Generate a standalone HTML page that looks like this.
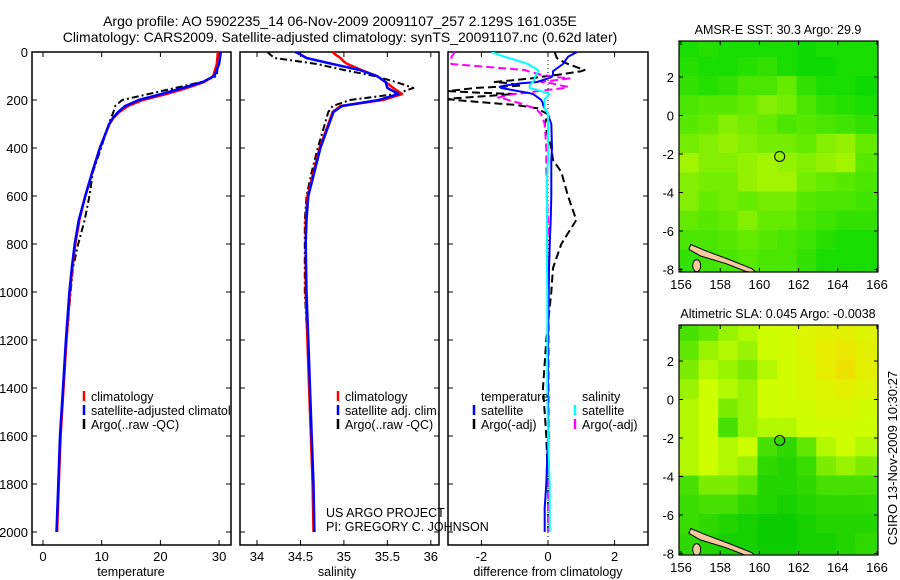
<!DOCTYPE html>
<html><head><meta charset="utf-8"><style>
html,body{margin:0;padding:0;background:#fff;}
svg{display:block;font-family:"Liberation Sans",sans-serif;}
</style></head><body>
<svg id="fig" width="900" height="580" viewBox="0 0 900 580" xmlns="http://www.w3.org/2000/svg">
<defs>
<clipPath id="c1"><rect x="32" y="52" width="199" height="493"/></clipPath>
<clipPath id="c2"><rect x="240" y="52" width="199" height="493"/></clipPath>
<clipPath id="c3"><rect x="448" y="52" width="200" height="493"/></clipPath>
<clipPath id="m1"><rect x="679" y="41" width="199" height="231"/></clipPath>
<clipPath id="m2"><rect x="679" y="325" width="199" height="230"/></clipPath>
</defs>
<text x="340" y="26" font-size="14" text-anchor="middle">Argo profile: AO 5902235_14 06-Nov-2009 20091107_257 2.129S 161.035E</text>
<text x="340" y="42" font-size="14" text-anchor="middle">Climatology: CARS2009. Satellite-adjusted climatology: synTS_20091107.nc (0.62d later)</text>
<g id="g"></g>
</svg>
<script>
// ---- profile data ----
const depthT = [0,50,100,125,150,175,200,225,250,275,300,400,500,600,700,800,900,1000,1200,1400,1600,1800,2000];
const tempClim = [29.8,29.6,29.0,27.5,24.5,21.0,17.0,14.5,13.0,12.0,11.3,9.7,8.4,7.2,6.2,5.5,5.0,4.6,4.0,3.5,3.0,2.7,2.4];
const tempSat  = [30.3,30.0,29.2,27.2,23.8,20.2,16.3,14.0,12.8,11.9,11.3,9.7,8.4,7.2,6.1,5.4,4.9,4.5,3.9,3.4,2.9,2.6,2.3];
const tempArgo = [30.0,29.8,29.6,27.0,22.5,18.0,13.5,12.3,12.0,11.6,11.2,9.9,8.5,7.9,7.1,6.0,5.1,4.7,4.0,3.4,3.0,2.6,2.3];
const depthS = [0,10,25,40,50,75,100,125,150,175,200,225,250,300,400,500,600,700,800,1000,1200,1400,1600,1800,2000];
const salClim = [34.87,34.9,34.96,35.0,35.04,35.2,35.38,35.48,35.57,35.67,35.45,34.96,34.87,34.82,34.72,34.65,34.58,34.56,34.56,34.56,34.58,34.6,34.62,34.64,34.65];
const salSat  = [34.44,34.5,34.57,34.75,34.87,35.18,35.38,35.48,35.5,35.63,35.4,34.98,34.88,34.83,34.73,34.66,34.59,34.57,34.56,34.57,34.59,34.61,34.63,34.65,34.66];
const salArgo = [34.12,34.15,34.2,34.5,34.69,35.0,35.35,35.6,35.8,35.6,35.07,34.87,34.82,34.78,34.7,34.63,34.57,34.55,34.55,34.55,34.58,34.6,34.62,34.64,34.65];
const depthD = [0,20,30,50,75,80,95,105,110,125,130,140,145,150,163,170,175,180,190,195,200,215,220,235,245,260,300,400,450,500,550,600,700,800,900,1000,1200,1400,1600,1800,1900,2000];
const dTempSat  = [0.87,0.6,0.55,0.45,0.2,0.15,0.15,0.1,0.0,-0.33,-0.8,-1.3,-1.45,-1.4,-0.9,-0.6,-0.45,-0.4,-0.3,-0.25,-0.2,-0.15,-0.15,-0.1,-0.05,0,0.1,0.12,0.1,0.1,0.1,0.1,0.08,0.05,0.03,0.02,0.0,0.0,0.0,-0.05,-0.1,-0.1];
const dTempArgo = [0.2,0.25,0.3,0.6,1.1,1.0,0.3,-0.3,-0.5,-1.6,-1.2,-0.8,-1.5,-2.2,-3.0,-2.0,-1.0,-1.5,-2.5,-3.0,-2.8,-1.5,-1.0,-0.3,-0.2,0,-0.1,0.1,0.15,0.4,0.5,0.6,0.85,0.4,0.15,0.1,-0.05,-0.15,-0.05,0.0,0.0,0.0];
const dSalSat   = [-1.7,-1.3,-1.05,-0.6,-0.3,-0.3,-0.35,-0.4,-0.4,-0.45,-0.5,-0.55,-0.55,-0.55,-0.2,-0.05,0.05,0.0,-0.05,-0.1,-0.1,-0.1,-0.1,-0.1,-0.05,0,0,0,0,-0.02,-0.03,-0.03,-0.03,-0.03,-0.03,-0.02,-0.02,-0.02,0,0.05,0.05,0.05];
const dSalArgo  = [-2.8,-2.9,-2.9,-2.9,-0.7,-0.6,-0.2,0.3,0.65,-0.2,0.1,0.4,0.6,0.5,-0.3,-0.6,-1.0,-1.2,-1.5,-1.3,-1.2,-0.8,-0.7,-0.4,-0.3,-0.2,-0.1,-0.05,-0.05,-0.05,-0.03,-0.03,0,0.05,0.03,0.02,0.02,0.02,0.02,0,0,0];
const depthTicks = [0,200,400,600,800,1000,1200,1400,1600,1800,2000];
const tempTicks = [0,10,20,30];
const salTicks = [34,34.5,35,35.5,36];
const salTickLabels = ["34","34.5","35","35.5","36"];
const diffTicks = [-2,0,2];
// ---- map data (rows lat 4..-8, 1deg cells; cols lon 156..166) ----
const mapLons = [156,157,158,159,160,161,162,163,164,165];
const mapLats = [4,3,2,1,0,-1,-2,-3,-4,-5,-6,-7];
const sstGrid = [
[0.1,0.15,0.1,0.1,0.1,0.1,0.05,0.1,0.1,0.1],
[0.15,0.1,0.1,0.15,0.2,0.1,0.05,0.05,0.1,0.1],
[0.2,0.15,0.2,0.3,0.3,0.4,0.2,0.1,0.1,0.05],
[0.3,0.35,0.35,0.4,0.5,0.45,0.3,0.2,0.15,0.1],
[0.35,0.4,0.5,0.45,0.4,0.3,0.35,0.3,0.25,0.2],
[0.45,0.5,0.55,0.5,0.45,0.45,0.4,0.5,0.55,0.4],
[0.6,0.5,0.5,0.55,0.6,0.55,0.5,0.55,0.6,0.35],
[0.5,0.45,0.45,0.55,0.6,0.6,0.45,0.4,0.35,0.3],
[0.5,0.4,0.45,0.4,0.45,0.45,0.35,0.3,0.3,0.25],
[0.4,0.35,0.4,0.5,0.4,0.4,0.3,0.25,0.2,0.2],
[0.3,0.3,0.35,0.4,0.35,0.3,0.25,0.15,0.1,0.1],
[0.2,0.25,0.3,0.35,0.3,0.3,0.2,0.1,0.1,0.1]];
const slaGrid = [
[0.3,0.35,0.45,0.5,0.55,0.6,0.7,0.75,0.75,0.7],
[0.35,0.45,0.5,0.45,0.55,0.6,0.7,0.8,0.85,0.75],
[0.4,0.5,0.45,0.4,0.5,0.6,0.65,0.8,0.9,0.75],
[0.45,0.55,0.5,0.45,0.55,0.6,0.65,0.7,0.75,0.7],
[0.5,0.55,0.4,0.45,0.55,0.6,0.6,0.65,0.65,0.6],
[0.5,0.55,0.3,0.45,0.5,0.5,0.55,0.6,0.6,0.55],
[0.5,0.55,0.5,0.55,0.3,0.2,0.35,0.5,0.55,0.5],
[0.5,0.55,0.5,0.45,0.2,0.15,0.25,0.4,0.45,0.4],
[0.3,0.4,0.4,0.35,0.15,0.15,0.2,0.3,0.3,0.3],
[0.25,0.3,0.3,0.2,0.15,0.1,0.15,0.2,0.2,0.2],
[0.25,0.2,0.15,0.1,0.05,0.05,0.1,0.15,0.15,0.15],
[0.2,0.15,0.1,0.1,0.05,0.05,0.1,0.1,0.15,0.2]];
const argoLon = [161.035];
const argoLat = [-2.129];
const landLon = [156.5,157.2,158.5,159.6,159.9,159.3,158.3,157.0,156.4];
const landLat = [-6.7,-7.0,-7.5,-7.95,-8.2,-8.1,-7.7,-7.3,-6.95];
const lonTicks = [156,158,160,162,164,166];
const latTicks = [2,0,-2,-4,-6,-8];

const NS='http://www.w3.org/2000/svg';
const G=document.getElementById('g');
function mk(tag,attrs,parent){const e=document.createElementNS(NS,tag);for(const k in attrs)e.setAttribute(k,attrs[k]);(parent||G).appendChild(e);return e;}
const yD = d => 52 + d*0.24;
const xT = t => 43 + t*5.87;
const xS = s => 257 + (s-34)*86.9;
const xDf = v => 548 + v*33.3;

function frame(x0,x1,name){
  const r=mk('rect',{x:x0,y:52,width:x1-x0,height:493,fill:'none',stroke:'#000','stroke-width':1.5});
  
  
  depthTicks.forEach(d=>{
    mk('line',{x1:x0,x2:x0+5,y1:yD(d),y2:yD(d),stroke:'#000'});
    mk('line',{x1:x1,x2:x1-5,y1:yD(d),y2:yD(d),stroke:'#000'});
  });
}
function xticks(vals,labels,fx,x0,x1,name){
  vals.forEach((v,i)=>{
    const x=fx(v);
    mk('line',{x1:x,x2:x,y1:52,y2:57,stroke:'#000'});
    mk('line',{x1:x,x2:x,y1:545,y2:540,stroke:'#000'});
    const t=mk('text',{x:x,y:561,'font-size':13,'text-anchor':'middle'});
    t.textContent=labels[i];
    
    
  });
}
function line(ds,vs,fx,color,w,dash,clip,name){
  const pts=ds.map((d,i)=>fx(vs[i]).toFixed(1)+','+yD(d).toFixed(1)).join(' ');
  const p=mk('polyline',{points:pts,fill:'none',stroke:color,'stroke-width':w,'stroke-dasharray':dash||'none','clip-path':'url(#'+clip+')','stroke-linejoin':'round'});
  
  
}
function txt(x,y,s,name,size,anchor){
  const t=mk('text',{x:x,y:y,'font-size':size||12.5,'text-anchor':anchor||'start'});
  t.textContent=s;
  
  
  return t;
}
function legend(x,y,color,label,name,clip){
  const b=mk('line',{x1:x,x2:x,y1:y-10,y2:y,stroke:color,'stroke-width':2.5});
  
  
  const t=txt(x+7,y,label,name);
  if(clip)t.setAttribute('clip-path','url(#'+clip+')');
}

// Panel 1
frame(32,231,'temperature-panel');
depthTicks.forEach(d=>txt(28,yD(d)+5,String(d),'depth-tick-label',13,'end'));
xticks(tempTicks,tempTicks.map(String),xT,32,231,'temperature');
line(depthT,tempArgo,xT,'#000',2,'7,3,2,3','c1','temperature-argo-line');
line(depthT,tempClim,xT,'#f00',2.5,null,'c1','temperature-climatology-line');
line(depthT,tempSat,xT,'#00f',2.5,null,'c1','temperature-satellite-line');
txt(131,576,'temperature','temperature-axis-title',12.5,'middle');
legend(84,401,'#f00','climatology','legend-climatology');
legend(84,415,'#00f','satellite-adjusted climatology','legend-satellite-adjusted','c1');
legend(84,429,'#000','Argo(..raw -QC)','legend-argo');

// Panel 2
frame(240,439,'salinity-panel');
xticks(salTicks,salTickLabels,xS,240,439,'salinity');
line(depthS,salArgo,xS,'#000',2,'7,3,2,3','c2','salinity-argo-line');
line(depthS,salClim,xS,'#f00',2.5,null,'c2','salinity-climatology-line');
line(depthS,salSat,xS,'#00f',2.5,null,'c2','salinity-satellite-line');
txt(337,576,'salinity','salinity-axis-title',12.5,'middle');
legend(338,401,'#f00','climatology','legend-sal-climatology');
legend(338,415,'#00f','satellite adj. clim.','legend-sal-satellite');
legend(338,429,'#000','Argo(..raw -QC)','legend-sal-argo');
txt(326,517,'US ARGO PROJECT','project-credit');
txt(326,531,'PI: GREGORY C. JOHNSON','pi-credit');

// Panel 3
frame(448,648,'difference-panel');
xticks(diffTicks,diffTicks.map(String),xDf,448,648,'difference');
mk('line',{x1:xDf(0),x2:xDf(0),y1:52,y2:545,stroke:'#000','stroke-dasharray':'1,3'});
line(depthD,dTempArgo,xDf,'#000',2,'8,4','c3','diff-temperature-argo-line');
line(depthD,dSalArgo,xDf,'#f0f',2,'8,4','c3','diff-salinity-argo-line');
line(depthD,dTempSat,xDf,'#00f',2,null,'c3','diff-temperature-satellite-line');
line(depthD,dSalSat,xDf,'#0ff',2,null,'c3','diff-salinity-satellite-line');
txt(548,576,'difference from climatology','difference-axis-title',12.5,'middle');
txt(481,401,'temperature','legend-temperature-heading');
txt(582,401,'salinity','legend-salinity-heading');
legend(474,415,'#00f','satellite','legend-diff-temp-satellite');
legend(474,429,'#000','Argo(-adj)','legend-diff-temp-argo');
legend(575,415,'#0ff','satellite','legend-diff-sal-satellite');
legend(575,429,'#f0f','Argo(-adj)','legend-diff-sal-argo');

// Maps
function sstColor(v){
  const stops=[[0,[0,215,0]],[0.4,[100,235,0]],[0.7,[195,248,0]],[1,[230,240,0]]];
  return interp(stops,v);
}
function slaColor(v){
  const stops=[[0,[0,200,0]],[0.3,[70,225,0]],[0.55,[205,255,0]],[0.8,[232,238,0]],[1,[242,212,0]]];
  return interp(stops,v);
}
function interp(stops,v){
  for(let i=1;i<stops.length;i++){if(v<=stops[i][0]){const a=stops[i-1],b=stops[i],f=(v-a[0])/(b[0]-a[0]);return 'rgb('+a[1].map((c,k)=>Math.round(c+(b[1][k]-c)*f)).join(',')+')';}}
  return 'rgb('+stops[stops.length-1][1].join(',')+')';
}
function drawMap(top,bot,lat2y,grid,colorFn,clip,name,title){
  const xL = lon => 681 + (lon-156)*19.6;
  const yL = lat => lat2y + (2-lat)*19.25;
  const g=mk('g',{'clip-path':'url(#'+clip+')'});
  
  
  mapLats.forEach((lat,r)=>mapLons.forEach((lon,c)=>{
    const x0=xL(lon)-2, y0=yL(lat)-1;
    const w = c===mapLons.length-1 ? 24 : 20.2;
    const h = r===mapLats.length-1 ? 26 : 19.8;
    const cell=mk('rect',{x:x0,y:y0,width:w,height:h,fill:colorFn(grid[r][c])},g);
    
    
  }));
  const lp=landLon.map((lo,i)=>xL(lo).toFixed(1)+','+yL(landLat[i]).toFixed(1)).join(' ');
  const land=mk('polygon',{points:lp,fill:'#f5c8a0',stroke:'#000','stroke-width':1},g);
  
  
  mk('ellipse',{cx:xL(156.8),cy:yL(-7.8),rx:4,ry:6,fill:'#f5c8a0',stroke:'#000'},g);
  const c=mk('circle',{cx:xL(argoLon[0]),cy:yL(argoLat[0]),r:5,fill:'none',stroke:'#000','stroke-width':1});
  
  
  const fr=mk('rect',{x:679,y:top,width:199,height:bot-top,fill:'none',stroke:'#000','stroke-width':1.2});
  
  
  lonTicks.forEach(lo=>{
    const x=xL(lo);
    mk('line',{x1:x,x2:x,y1:top,y2:top+4,stroke:'#000'});
    mk('line',{x1:x,x2:x,y1:bot,y2:bot-4,stroke:'#000'});
    txt(x,bot+17,String(lo),name+'-lon-tick-label',13,'middle');
  });
  latTicks.forEach(la=>{
    const y=yL(la);
    mk('line',{x1:679,x2:683,y1:y,y2:y,stroke:'#000'});
    mk('line',{x1:878,x2:874,y1:y,y2:y,stroke:'#000'});
    txt(674,y+5,String(la),name+'-lat-tick-label',13,'end');
  });
  txt(778,top-7,title,name+'-title',12.5,'middle');
}
drawMap(41,272,77,sstGrid,sstColor,'m1','sst-map','AMSR-E SST: 30.3 Argo: 29.9');
drawMap(325,555,361,slaGrid,slaColor,'m2','sla-map','Altimetric SLA: 0.045 Argo: -0.0038');
const cs=txt(0,0,'CSIRO 13-Nov-2009 10:30:27','timestamp-label',13,'middle');
cs.setAttribute('transform','translate(897,458) rotate(-90)');
</script>
</body></html>
